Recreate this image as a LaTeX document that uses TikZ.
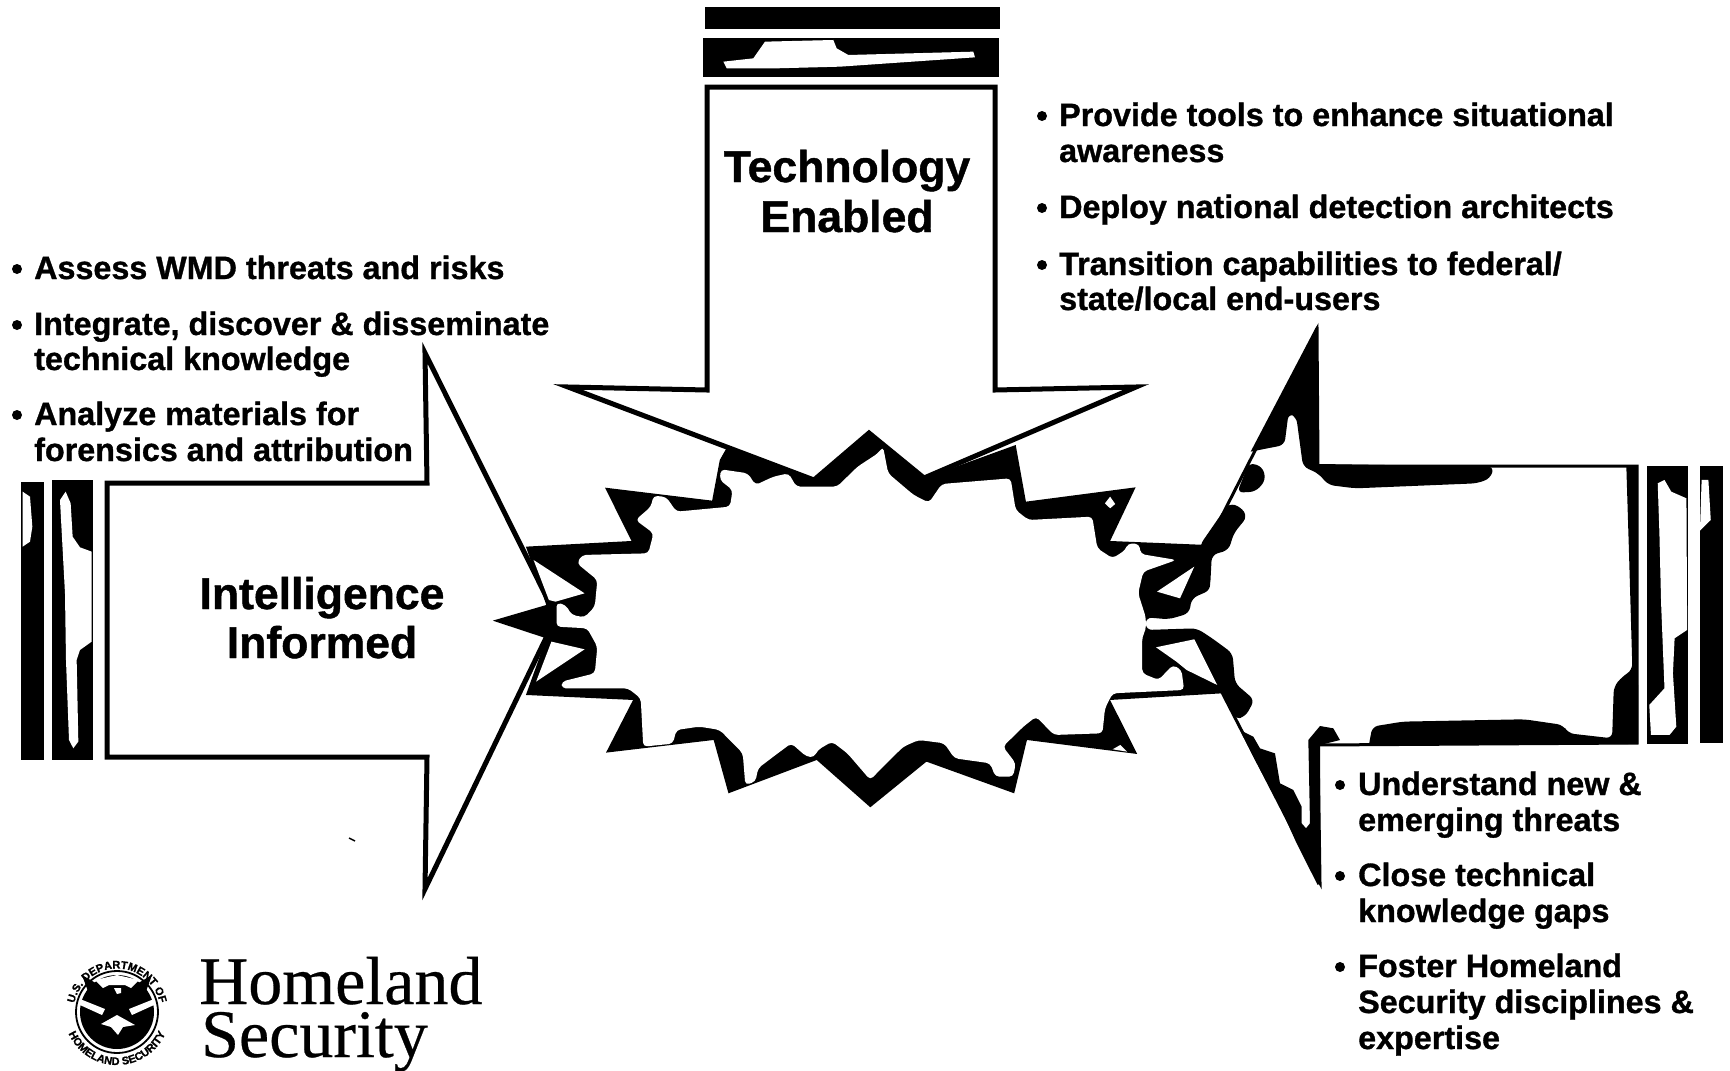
\documentclass[tikz,border=0pt]{standalone}
\usepackage{fontspec}
\usetikzlibrary{decorations.text}
\newfontfamily\listfont{Liberation Sans Bold}[FakeBold=1]
\newfontfamily\sealfont{Liberation Serif}[FakeBold=0.4]

\begin{document}
\begin{tikzpicture}[x=1pt,y=-1pt,
    outline/.style={draw=black,fill=white,line width=5pt,line join=miter},
    listline/.style={anchor=base west,inner sep=0pt,font=\listfont\fontsize{32.3}{34}\selectfont},
    listdot/.style={circle,fill=black,inner sep=0pt,minimum size=10pt},
    biglabel/.style={anchor=base,inner sep=0pt,font=\listfont\fontsize{44.5}{48}\selectfont},
    logoword/.style={anchor=base west,inner sep=0pt,font=\sealfont\fontsize{68}{72}\selectfont}]
    \useasboundingbox (0,0) rectangle (1730,1071);

    % Arrows
    \draw[outline] (707,87) -- (995,87) -- (995,390) -- (1136,387) -- (924,478) -- (869,433) -- (814,480) -- (568,387) -- (707,390) -- cycle;
    \draw[outline] (107,483) -- (427,483) -- (425,353) -- (549,602) -- (546,638) -- (425,889) -- (427,757) -- (107,757) -- cycle;
    \draw[outline,line width=3pt] (1180,598) -- (1317,329) -- (1318,466) -- (1637,466) -- (1637,743) -- (1318,745) -- (1320,883) -- (1194,638);

    % Burst in the middle
    \begin{scope}[shift={(480,380)},xscale=0.5102,yscale=0.3333]
        \fill (762,160) -- (870,295) -- (1050,195) -- (1070,365) -- (1285,322) -- (1235,483) -- (1425,495) [rounded corners=6pt] -- (1432,630) -- (1395,655) -- (1390,700) -- (1350,718) -- (1305,712) -- (1305,750) -- (1405,745) -- (1435,775) -- (1475,820) -- (1480,910) -- (1518,960) -- (1500,1010) -- (1480,1018) [sharp corners] -- (1455,940) -- (1235,960) -- (1288,1122) -- (1072,1080) -- (1047,1240) -- (875,1145) -- (765,1282) -- (660,1140) -- (487,1240) -- (458,1080) -- (247,1118) -- (300,960) -- (90,945) -- (130,775) -- (25,722) -- (130,675) -- (90,500) -- (297,483) -- (245,323) -- (455,362) -- (470,240) -- (483,205) -- (655,300) -- cycle;
        \fill[white,rounded corners=4pt] (790,200) -- (800,280) -- (850,345) -- (880,368) -- (905,312) -- (1040,295) -- (1050,390) -- (1075,420) -- (1200,410) -- (1210,505) -- (1240,535) -- (1265,510) -- (1270,490) -- (1292,492) -- (1295,522) -- (1365,540) -- (1300,575) -- (1290,640) -- (1305,712) -- (1305,750) -- (1298,770) -- (1298,880) -- (1330,900) -- (1358,855) -- (1375,870) -- (1380,930) -- (1240,940) -- (1225,985) -- (1220,1060) -- (1125,1065) -- (1090,1010) -- (1065,1040) -- (1025,1100) -- (1050,1150) -- (1045,1190) -- (1010,1190) -- (1000,1150) -- (930,1135) -- (910,1090) -- (860,1080) -- (830,1100) -- (790,1160) -- (765,1200) -- (720,1120) -- (690,1085) -- (662,1110) -- (655,1132) -- (640,1130) -- (610,1090) -- (575,1130) -- (545,1165) -- (540,1205) -- (520,1215) -- (515,1120) -- (470,1050) -- (430,1040) -- (385,1050) -- (378,1091) -- (320,1100) -- (315,955) -- (290,925) -- (160,925) -- (160,905) -- (225,880) -- (230,800) -- (210,745) -- (150,740) -- (150,668) -- (168,675) -- (180,705) -- (205,712) -- (225,680) -- (230,600) -- (190,550) -- (200,525) -- (330,520) -- (340,460) -- (305,420) -- (335,380) -- (340,347) -- (365,351) -- (385,395) -- (490,380) -- (495,330) -- (470,300) -- (472,268) -- (525,280) -- (540,315) -- (575,290) -- (605,280) -- (620,320) -- (700,320) -- (740,260) -- (780,220) -- cycle;
        % Openings left in the black
        \fill[white] (105,540) -- (205,640) -- (148,665) -- (135,660) -- cycle;
        \fill[white] (110,905) -- (205,808) -- (140,785) -- cycle;
        \fill[white] (1327,635) -- (1400,560) -- (1372,655) -- cycle;
        \fill[white] (1325,802) -- (1400,778) -- (1445,915) -- (1385,870) -- (1365,845) -- cycle;
        \fill[white] (1225,370) -- (1235,350) -- (1245,372) -- (1235,385) -- cycle;
        \fill[white] (1240,1108) -- (1255,1095) -- (1268,1115) -- cycle;
    \end{scope}

    % Black on the right arrow
    \begin{scope}[shift={(1200,320)},xscale=0.3378,yscale=0.3333]
        \fill (345,18) -- (350,432) [rounded corners=6pt] -- (870,440) -- (860,475) -- (820,490) -- (460,505) -- (380,495) -- (350,460) -- (305,440) -- (285,290) -- (262,280) -- (250,375) [sharp corners] -- (150,395) -- cycle;
        \fill[rounded corners=6pt] (145,428) -- (185,440) -- (195,480) -- (165,515) -- (110,518) -- cycle;
        \fill[rounded corners=6pt] (85,550) -- (120,560) -- (140,590) -- (100,640) -- (85,690) -- (35,705) -- (30,800) -- (0,825) -- (0,675) -- cycle;
        \fill (500,1275) [rounded corners=6pt] -- (510,1220) -- (600,1205) -- (960,1198) -- (1075,1215) -- (1090,1240) -- (1220,1255) -- (1225,1100) -- (1250,1070) -- (1280,1050) [sharp corners] -- (1270,700) -- (1262,437) -- (1295,437) -- (1297,1272) -- cycle;
        % Stripes
        \fill (1322,437) rectangle (1445,1272);
        \fill[white] (1355,490) -- (1375,480) -- (1395,515) -- (1440,535) -- (1442,930) -- (1405,955) -- (1400,1060) -- (1410,1220) -- (1390,1245) -- (1335,1245) -- (1330,1155) -- (1375,1105) -- (1365,850) -- (1360,640) -- cycle;
        \fill (1480,437) rectangle (1548,1270);
        \fill[white] (1485,480) -- (1505,480) -- (1512,600) -- (1480,632) -- cycle;
    \end{scope}
    \begin{scope}[shift={(1220,720)},scale=0.3333]
        \fill (45,0) -- (60,30) -- (100,50) -- (120,85) -- (165,100) -- (180,190) -- (220,210) -- (245,260) -- (245,310) -- (258,325) -- (270,310) -- (265,60) -- (300,18) -- (340,25) -- (360,60) -- (300,75) -- (300,490) -- (293,495) -- (230,370) -- (180,260) -- (100,110) -- cycle;
    \end{scope}

    % Stripes on the left arrow
    \begin{scope}[shift={(0,460)},scale=0.3333]
        \fill (62,65) rectangle (132,900);
        \fill[white] (68,95) -- (90,110) -- (97,200) -- (90,245) -- (68,260) -- cycle;
        \fill (157,60) rectangle (280,900);
        \fill[white] (197,95) -- (212,130) -- (218,230) -- (240,262) -- (275,275) -- (275,545) -- (240,570) -- (230,600) -- (235,845) -- (220,865) -- (207,840) -- (198,600) -- (195,400) -- (180,120) -- cycle;
    \end{scope}

    % Stripes on the top arrow
    \begin{scope}[shift={(680,0)},scale=0.3333]
        \fill (75,20) rectangle (960,88);
        \fill (70,115) rectangle (958,232);
        \fill[white] (130,185) -- (220,175) -- (255,125) -- (460,120) -- (470,145) -- (505,165) -- (880,155) -- (885,172) -- (480,200) -- (290,205) -- (140,205) -- cycle;
    \end{scope}

    % Arrow names
    \node[biglabel] (tech) at (847,182) {Technology};
    \node[biglabel] (enab) at (847,232) {Enabled};
    \node[biglabel] (intel) at (322,609) {Intelligence};
    \node[biglabel] (inf) at (322,658) {Informed};

    % Left list
    \node[listdot] (d0) at (17,269) {};
    \node[listline] (l0) at (34,279) {Assess WMD threats and risks};
    \node[listdot] (d1) at (17,325) {};
    \node[listline] (l1) at (34,335) {Integrate, discover \& disseminate};
    \node[listline] (l2) at (34,370) {technical knowledge};
    \node[listdot] (d2) at (17,415) {};
    \node[listline] (l3) at (34,425) {Analyze materials for};
    \node[listline] (l4) at (34,461) {forensics and attribution};

    % Top list
    \node[listdot] (d3) at (1042,116) {};
    \node[listline] (r0) at (1059,126) {Provide tools to enhance situational};
    \node[listline] (r1) at (1059,162) {awareness};
    \node[listdot] (d4) at (1042,208) {};
    \node[listline] (r2) at (1059,218) {Deploy national detection architects};
    \node[listdot] (d5) at (1042,265) {};
    \node[listline] (r3) at (1059,275) {Transition capabilities to federal/};
    \node[listline] (r4) at (1059,310) {state/local end-users};

    % Bottom list
    \node[listdot] (d6) at (1340,785) {};
    \node[listline] (b0) at (1358,795) {Understand new \&};
    \node[listline] (b1) at (1358,831) {emerging threats};
    \node[listdot] (d7) at (1340,876) {};
    \node[listline] (b2) at (1358,886) {Close technical};
    \node[listline] (b3) at (1358,922) {knowledge gaps};
    \node[listdot] (d8) at (1340,967) {};
    \node[listline] (b4) at (1358,977) {Foster Homeland};
    \node[listline] (b5) at (1358,1013) {Security disciplines \&};
    \node[listline] (b6) at (1358,1049) {expertise};

    % Seal
    \begin{scope}[shift={(117,1012)},y=1pt]
        \draw[line width=1.8pt] (0,0) circle (41);
        \fill (0,0) circle (37);
        \path[decorate,decoration={text along path,text align=center,text={|\listfont\fontsize{11}{11}\selectfont|U.S. DEPARTMENT OF}}] (180:43.5) arc (180:0:43.5);
        \path[decorate,decoration={text along path,text align=center,text={|\listfont\fontsize{11}{11}\selectfont|HOMELAND SECURITY}}] (180:53) arc (180:360:53);
        % Eagle cut out of the disc
        \fill[white] (-22,32) -- (0,37) -- (22,32) -- (14,24) -- (8,27) -- (-8,27) -- (-14,24) -- cycle;
        \fill[white] (-37,13) -- (-12,3) -- (-15,-3) -- (-37,7) -- cycle;
        \fill[white] (37,13) -- (12,3) -- (15,-3) -- (37,7) -- cycle;
        \fill[white] (-16,-12) -- (0,-3) -- (18,-13) -- (6,-15) -- (1,-23) -- (-6,-15) -- cycle;
        \fill[white] (-3,24) -- (4,24) -- (4,19) -- (0,18) -- cycle;
        % Wing tips through the ring
        \fill (-35,37) -- (-18,27) -- (-28,18) -- cycle;
        \fill (35,37) -- (18,27) -- (28,18) -- cycle;
    \end{scope}
    \node[logoword] (home) at (199,1004) {Homeland};
    \node[logoword] (secu) at (201,1057) {Security};

    % Speck under the left arrow
    \draw[line width=1.5pt] (349,838) -- (355,841);
\end{tikzpicture}
\end{document}
